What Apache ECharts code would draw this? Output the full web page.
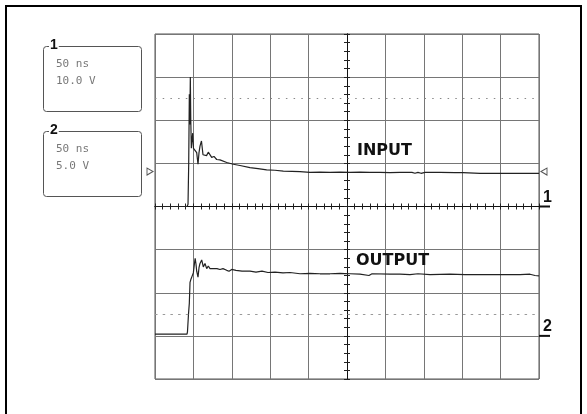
<!DOCTYPE html>
<html>
<head>
<meta charset="utf-8">
<script src="https://cdn.jsdelivr.net/npm/echarts@6/dist/echarts.min.js"></script>
<style>
html,body{margin:0;padding:0;background:#fff;}
#chart{width:587px;height:414px;}
</style>
</head>
<body>
<div id="chart"></div>
<script>
// Time (ns, relative to screen centre), 50 ns/div
const inputTime = [-250,-208.3,-207.0,-206.1,-205.3,-204.7,-204.0,-203.4,-202.7,-201.8,-200.9,-199.9,-197.9,-195.7,-194.0,-192.7,-191.4,-189.5,-187.5,-184.9,-182.9,-180.6,-178.4,-176.2,-173.2,-169.7,-165.4,-156.6,-148.0,-139.3,-126.3,-115.9,-104.6,-93.8,-82.9,-71.6,-61.2,-48.2,-35.2,-22.1,-9.1,3.9,16.9,29.9,42.9,55.9,69.0,84.6,88.5,92.4,96.4,101.6,121.1,140.6,151.0,153.6,173.2,199.2,225.3,250];
// Channel 1 (INPUT), volts, 10 V/div
const inputVolts = [0,0,0.5,10,26,19,30,20,13.5,15.5,17,13.5,13.8,12.5,9.8,12.5,14,15.2,12,12.2,11.8,12.6,12.3,11.4,11.6,10.9,10.8,10.2,9.8,9.5,9.0,8.8,8.5,8.4,8.2,8.15,8.1,7.9,7.95,7.9,7.95,7.9,7.95,7.9,7.9,7.85,7.9,7.9,7.7,7.9,7.7,7.9,7.9,7.85,7.85,7.7,7.7,7.7,7.7,7.7];
const outputTime = [-250,-208.3,-207.7,-206.4,-205.3,-204.4,-203.1,-201.8,-200.1,-198.6,-197.7,-196.6,-195.7,-194.0,-192.7,-191.4,-189.2,-187.1,-184.9,-182.7,-180.6,-178.4,-175.8,-173.2,-169.3,-165.4,-161.5,-156.6,-153.6,-150.1,-144.5,-136.7,-126.3,-118.5,-110.7,-102.9,-93.8,-83.3,-74.2,-61.2,-48.2,-35.2,-22.1,-9.1,3.9,16.9,28.6,32.6,55.9,69.0,82.0,92.4,108.1,134.1,153.6,173.2,199.2,225.3,238.3,244.8,250];
// Channel 2 (OUTPUT), volts, 5 V/div
const outputVolts = [0.2,0.2,0.5,2.5,3.8,6.2,6.6,6.9,7.3,8.4,9.0,8.3,7.5,6.8,7.9,8.4,8.8,8.0,8.4,7.8,8.1,7.8,8.0,7.8,7.8,7.7,7.8,7.6,7.5,7.7,7.6,7.5,7.5,7.4,7.5,7.35,7.4,7.3,7.35,7.2,7.25,7.2,7.2,7.25,7.2,7.15,7.0,7.2,7.15,7.15,7.1,7.2,7.1,7.15,7.1,7.1,7.1,7.1,7.15,7.0,6.95];
const cursorCh1 = [25];
const cursorCh2 = [2.5];
const triggerLevel = [8.1];
const channelNames = ['INPUT','OUTPUT'];
const infoBoxes = [['1','50 ns','10.0 V'],['2','50 ns','5.0 V']];

const chart = echarts.init(document.getElementById('chart'), null, {renderer:'canvas'});
const zip = (a,b)=>a.map((v,i)=>[v,b[i]]);
const gridColor = '#767676';
const centerAxis = (pos, extra) => Object.assign({
  type:'value', min:-250, max:250, interval:50, position:pos,
  axisLine:{show:true, onZero:true, onZeroAxisIndex:0, lineStyle:{color:'#111', width:1}},
  axisTick:{show:true, length:3, lineStyle:{color:'#222'}},
  minorTick:{show:true, splitNumber:5, length:3, lineStyle:{color:'#222'}},
  axisLabel:{show:false},
  splitLine:{show:false}
}, extra||{});

chart.setOption({
  animation:false,
  backgroundColor:'#fff',
  grid:{left:155, top:34, width:384, height:345, show:true, borderColor:'#555', borderWidth:1, containLabel:false},
  xAxis:[
    centerAxis('bottom', {splitLine:{show:true, lineStyle:{color:gridColor, width:1}}}),
    centerAxis('top')
  ],
  yAxis:[
    {type:'value', min:-40, max:40, interval:10, position:'left',
     axisLine:{show:true, onZero:true, onZeroAxisIndex:0, lineStyle:{color:'#111', width:1}},
     axisTick:{show:true, length:3, lineStyle:{color:'#222'}},
     minorTick:{show:true, splitNumber:5, length:3, lineStyle:{color:'#222'}},
     axisLabel:{show:false},
     splitLine:{show:true, lineStyle:{color:gridColor, width:1}}},
    {type:'value', min:-40, max:40, interval:10, position:'right',
     axisLine:{show:true, onZero:true, onZeroAxisIndex:0, lineStyle:{color:'#111', width:1}},
     axisTick:{show:true, length:3, lineStyle:{color:'#222'}},
     minorTick:{show:true, splitNumber:5, length:3, lineStyle:{color:'#222'}},
     axisLabel:{show:false}, splitLine:{show:false}},
    {type:'value', min:-5, max:35, interval:5, show:false, splitLine:{show:false}}
  ],
  series:[
    {name:channelNames[0], type:'line', xAxisIndex:0, yAxisIndex:0, data:zip(inputTime, inputVolts),
     showSymbol:false, symbol:'none', lineStyle:{color:'#222', width:1.2},
     markLine:{silent:true, symbol:'none', label:{show:false},
       lineStyle:{color:'#888', type:[1.5,6.2], width:1.2},
       data:cursorCh1.map(v=>({yAxis:v}))},
     markPoint:{silent:true, label:{show:false},
       itemStyle:{color:'#fff', borderColor:'#555', borderWidth:1},
       data:[
         {coord:[-250, triggerLevel[0]], symbol:'triangle', symbolSize:[7,6], symbolRotate:-90, symbolOffset:[-5,0]},
         {coord:[250, triggerLevel[0]], symbol:'triangle', symbolSize:[7,6], symbolRotate:90, symbolOffset:[5,0]}
       ]}
    },
    {name:channelNames[1], type:'line', xAxisIndex:0, yAxisIndex:2, data:zip(outputTime, outputVolts),
     showSymbol:false, symbol:'none', lineStyle:{color:'#222', width:1.2},
     markLine:{silent:true, symbol:'none', label:{show:false},
       lineStyle:{color:'#999', type:[2.5,5.2], width:1},
       data:cursorCh2.map(v=>({yAxis:v}))}
    }
  ]
});

const g1 = chart.convertToPixel({yAxisIndex:0}, 0);
const g2 = chart.convertToPixel({yAxisIndex:2}, 0);
const right = chart.convertToPixel({xAxisIndex:0}, 250);
const els = [
  {type:'rect', shape:{x:6, y:6, width:575, height:430}, style:{fill:'none', stroke:'#000', lineWidth:2}, z:100}
];
[[g1,'1'],[g2,'2']].forEach(([y,t])=>{
  els.push({type:'line', shape:{x1:right, y1:y, x2:right+11, y2:y}, style:{stroke:'#111', lineWidth:2}, z:100});
  els.push({type:'text', x:right+4, y:y-1, style:{text:t, font:'bold 16px "Liberation Sans"', fill:'#111', verticalAlign:'bottom', align:'left'}, z:100});
});
els.push({type:'text', x:357, y:151, style:{text:channelNames[0], font:'bold 16px "DejaVu Sans"', fill:'#111', verticalAlign:'middle'}, z:100});
els.push({type:'text', x:356, y:261, style:{text:channelNames[1], font:'bold 16px "DejaVu Sans"', fill:'#111', verticalAlign:'middle'}, z:100});
infoBoxes.forEach((b,i)=>{
  const top = i===0 ? 46 : 131;
  els.push({type:'rect', shape:{x:43.5, y:top+0.5, width:98, height:65, r:3}, style:{fill:'none', stroke:'#555', lineWidth:1}, z:100});
  els.push({type:'text', x:49, y:top+6, style:{text:b[0], font:'bold 14px "Liberation Sans"', fill:'#111', verticalAlign:'bottom', backgroundColor:'#fff', padding:[0,1,0,1]}, z:101});
  els.push({type:'text', x:56, y:top+18.5, style:{text:b[1], font:'11px "DejaVu Sans Mono"', fill:'#777', verticalAlign:'middle'}, z:100});
  els.push({type:'text', x:56, y:top+35, style:{text:b[2], font:'11px "DejaVu Sans Mono"', fill:'#777', verticalAlign:'middle'}, z:100});
});
chart.setOption({graphic:{elements:els}});
</script>
</body>
</html>
